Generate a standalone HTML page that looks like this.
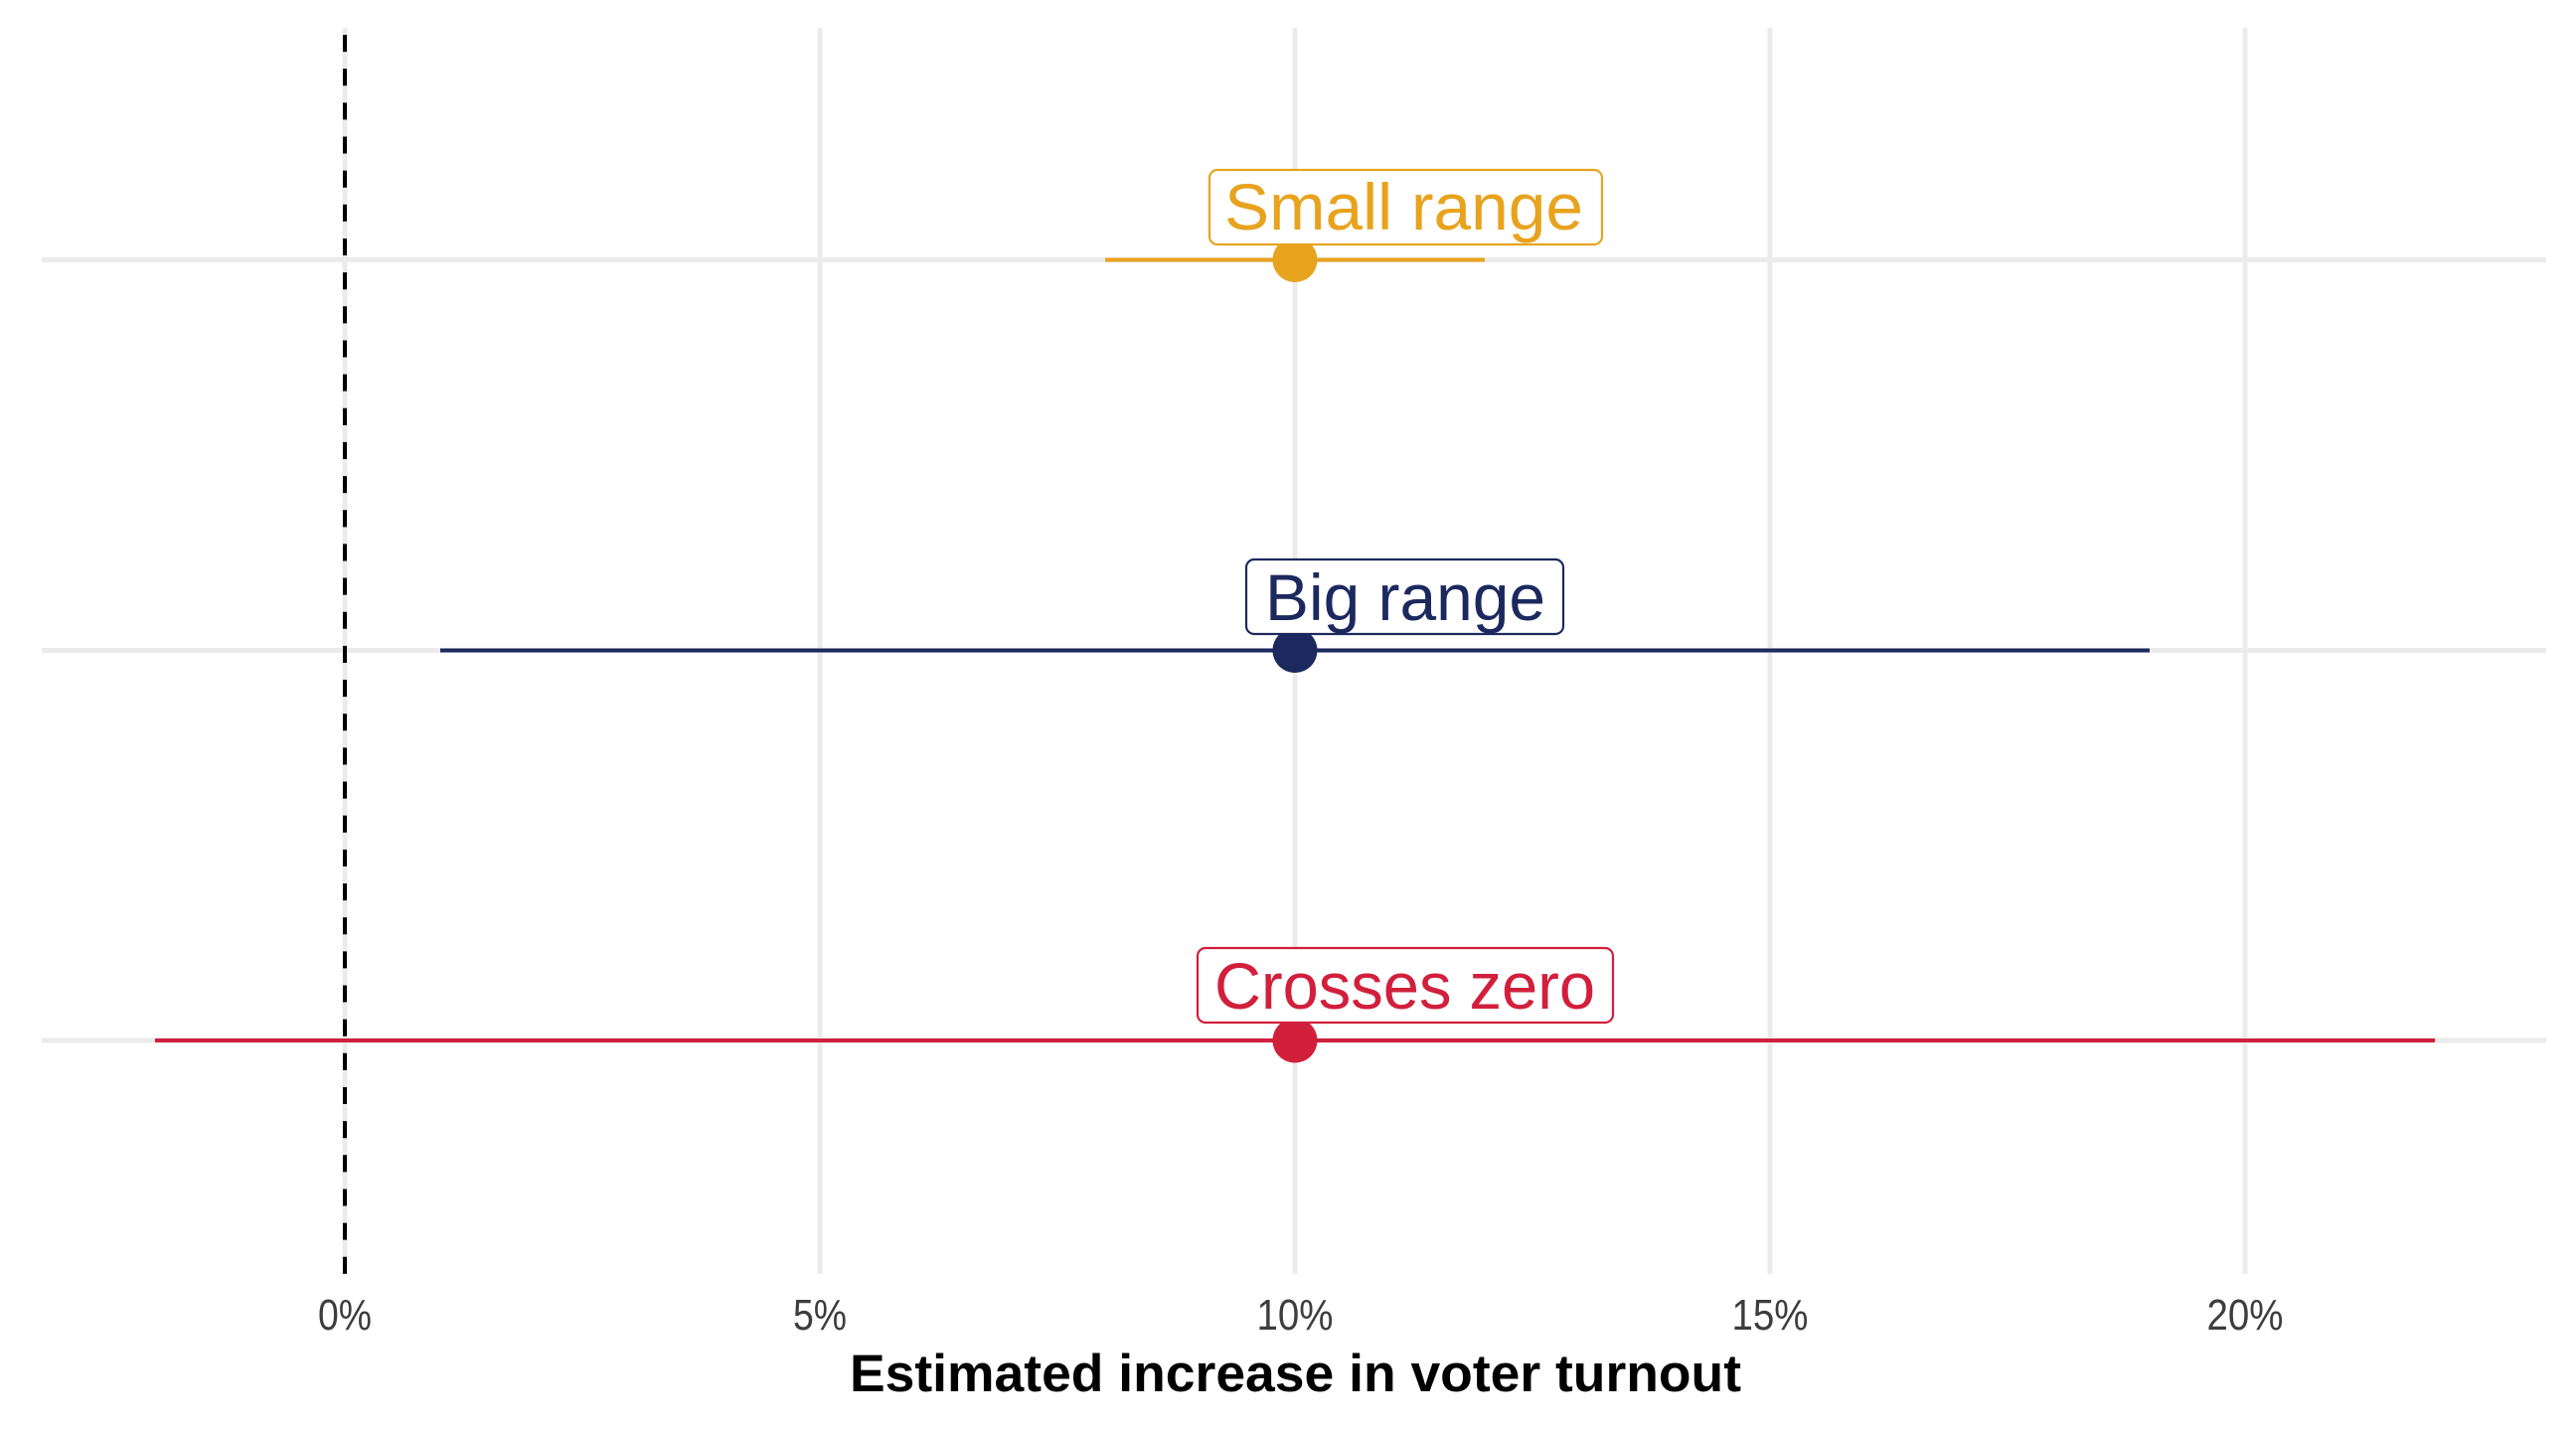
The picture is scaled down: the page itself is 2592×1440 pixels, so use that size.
<!DOCTYPE html>
<html>
<head>
<meta charset="utf-8">
<style>
  html, body { margin: 0; padding: 0; background: #ffffff; }
  svg { display: block; }
  text { font-family: "Liberation Sans", sans-serif; }
</style>
</head>
<body>
<svg width="2592" height="1440" viewBox="0 0 2592 1440" xmlns="http://www.w3.org/2000/svg">
  <rect width="2592" height="1440" fill="#ffffff"/>

  <!-- vertical gridlines -->
  <g stroke="#ebebeb" stroke-width="5">
    <line x1="347" y1="28" x2="347" y2="1282"/>
    <line x1="825" y1="28" x2="825" y2="1282"/>
    <line x1="1303" y1="28" x2="1303" y2="1282"/>
    <line x1="1781" y1="28" x2="1781" y2="1282"/>
    <line x1="2259" y1="28" x2="2259" y2="1282"/>
  </g>
  <!-- horizontal gridlines -->
  <g stroke="#ebebeb" stroke-width="5">
    <line x1="42" y1="261.5" x2="2562" y2="261.5"/>
    <line x1="42" y1="654.5" x2="2562" y2="654.5"/>
    <line x1="42" y1="1047" x2="2562" y2="1047"/>
  </g>

  <!-- dashed zero line -->
  <line x1="347" y1="28" x2="347" y2="1282" stroke="#000000" stroke-width="4"
        stroke-dasharray="17.08 17.08" stroke-dashoffset="27.16"/>

  <!-- Small range -->
  <line x1="1112" y1="261.5" x2="1494" y2="261.5" stroke="#E8A31E" stroke-width="4"/>
  <circle cx="1303" cy="261.5" r="22.5" fill="#E8A31E"/>
  <rect x="1217" y="171" width="395" height="75" rx="8" ry="8" fill="#ffffff" stroke="#E8A31E" stroke-width="2.2"/>
  <text x="1232" y="231" font-size="66" fill="#E8A31E" textLength="361" lengthAdjust="spacingAndGlyphs">Small range</text>

  <!-- Big range -->
  <line x1="443" y1="654.5" x2="2163" y2="654.5" stroke="#1B295E" stroke-width="4"/>
  <circle cx="1303" cy="654.5" r="22.5" fill="#1B295E"/>
  <rect x="1254" y="563" width="319" height="75" rx="8" ry="8" fill="#ffffff" stroke="#1B295E" stroke-width="2.2"/>
  <text x="1273" y="624" font-size="66" fill="#1B295E" textLength="282" lengthAdjust="spacingAndGlyphs">Big range</text>

  <!-- Crosses zero -->
  <line x1="156" y1="1047" x2="2450" y2="1047" stroke="#D11F3C" stroke-width="4"/>
  <circle cx="1303" cy="1047" r="22.5" fill="#D11F3C"/>
  <rect x="1205" y="954" width="418" height="75" rx="8" ry="8" fill="#ffffff" stroke="#D11F3C" stroke-width="2.2"/>
  <text x="1222" y="1015" font-size="66" fill="#D11F3C" textLength="383" lengthAdjust="spacingAndGlyphs">Crosses zero</text>

  <!-- x tick labels -->
  <g fill="#3d3d3d" font-size="44" text-anchor="middle">
    <text x="347" y="1338" textLength="54" lengthAdjust="spacingAndGlyphs">0%</text>
    <text x="825" y="1338" textLength="54" lengthAdjust="spacingAndGlyphs">5%</text>
    <text x="1303" y="1338" textLength="77" lengthAdjust="spacingAndGlyphs">10%</text>
    <text x="1781" y="1338" textLength="77" lengthAdjust="spacingAndGlyphs">15%</text>
    <text x="2259" y="1338" textLength="77" lengthAdjust="spacingAndGlyphs">20%</text>
  </g>

  <!-- x axis title -->
  <text x="855" y="1400" font-size="53" font-weight="bold" fill="#000000" textLength="897" lengthAdjust="spacingAndGlyphs">Estimated increase in voter turnout</text>
</svg>
</body>
</html>
